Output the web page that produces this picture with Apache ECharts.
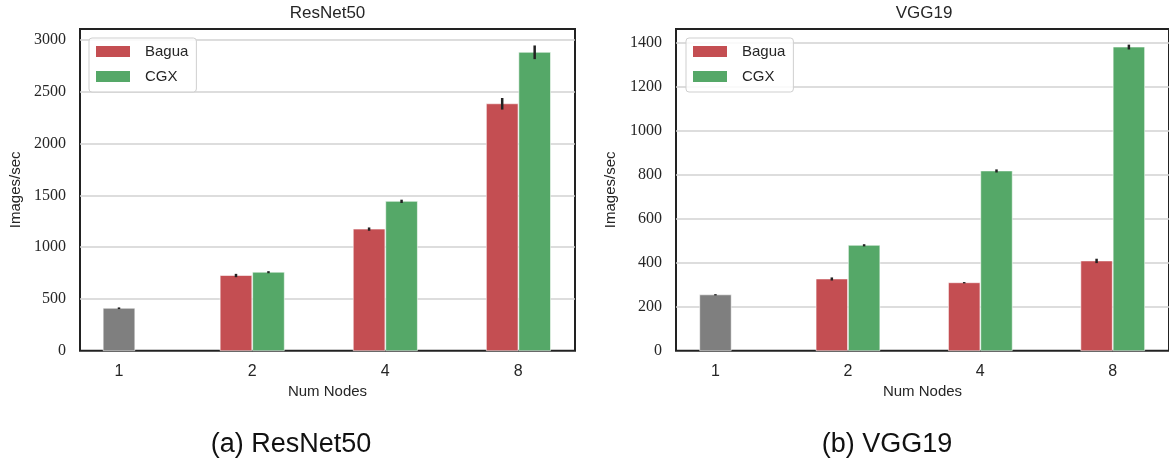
<!DOCTYPE html>
<html><head><meta charset="utf-8">
<script src="https://cdn.jsdelivr.net/npm/echarts@6/dist/echarts.min.js"></script>
<style>html,body{margin:0;padding:0;background:#fff}#c{width:1169px;height:463px}</style>
</head><body><div id="c"></div>
<script>
// ---- data ----
const categories = ['1', '2', '4', '8'];
const seriesNames = ['Bagua', 'CGX'];
// ResNet50 (Images/sec)
const resnetSingle    = [410, null, null, null];
const resnetSingleErr = [8, null, null, null];
const resnetBagua     = [null, 726, 1174, 2384];
const resnetBaguaErr  = [null, 16, 16, 56];
const resnetCGX       = [null, 758, 1442, 2881];
const resnetCGXErr    = [null, 10, 16, 66];
// VGG19 (Images/sec)
const vggSingle    = [254, null, null, null];
const vggSingleErr = [3, null, null, null];
const vggBagua     = [null, 326, 309, 408];
const vggBaguaErr  = [null, 7, 3, 10];
const vggCGX       = [null, 479, 817, 1380];
const vggCGXErr    = [null, 5, 7, 11];
const resnetTicks = [0, 500, 1000, 1500, 2000, 2500, 3000];
const vggTicks = [0, 200, 400, 600, 800, 1000, 1200, 1400];

// ---- style ----
const SANS = 'Liberation Sans';
const SERIF = 'Liberation Serif';
const TXT = '#262626';
const C_SINGLE = '#7f7f7f', C_BAGUA = '#c44e52', C_CGX = '#55a868';
const BW = 0.238;

function toData(vals, errs) {
  const out = [];
  vals.forEach((v, i) => { if (v != null) out.push([i, v, errs[i]]); });
  return out;
}
function barRenderer(start, width) {
  return function (params, api) {
    const x = api.value(0), y = api.value(1), e = api.value(2);
    const p0 = api.coord([x + start, y]);
    const p1 = api.coord([x + start + width, 0]);
    const t = api.coord([x + start + width / 2, y + e]);
    const b = api.coord([x + start + width / 2, y - e]);
    return {
      type: 'group',
      children: [
        { type: 'rect', shape: { x: p0[0], y: p0[1], width: p1[0] - p0[0], height: p1[1] - p0[1] },
          style: { fill: api.visual('color'), stroke: 'rgba(255,255,255,0.55)', lineWidth: 1 } },
        { type: 'line', shape: { x1: t[0], y1: t[1], x2: b[0], y2: b[1] },
          style: { stroke: '#222', lineWidth: 2.5 } }
      ]
    };
  };
}
function mkSeries(name, color, vals, errs, start, idx) {
  return {
    type: 'custom', name: name, xAxisIndex: idx, yAxisIndex: idx,
    itemStyle: { color: color },
    renderItem: barRenderer(start, BW),
    encode: { x: 0, y: 1 },
    data: toData(vals, errs)
  };
}
function xAx(idx, min, max) {
  return {
    type: 'value', gridIndex: idx, min: min, max: max,
    splitLine: { show: false }, axisLine: { show: false }, axisTick: { show: false },
    axisLabel: { customValues: [0, 1, 2, 3], formatter: v => categories[Math.round(v)],
      margin: 13, fontSize: 16, fontFamily: SANS, color: TXT },
    name: 'Num Nodes', nameLocation: 'middle', nameGap: 34,
    nameTextStyle: { fontSize: 15, fontFamily: SANS, color: TXT }
  };
}
function yAx(idx, max, ticks, gap) {
  const step = ticks[1] - ticks[0];
  return {
    type: 'value', gridIndex: idx, min: 0, max: max, interval: step,
    axisLine: { show: false }, axisTick: { show: false },
    splitLine: { showMinLine: false, showMaxLine: false, lineStyle: { color: '#d2d2d2', width: 1.5 } },
    axisLabel: { formatter: v => (ticks.indexOf(v) >= 0 ? String(v) : ''), margin: 14,
      fontSize: 16, fontFamily: SERIF, color: TXT },
    name: 'Images/sec', nameLocation: 'middle', nameGap: gap,
    nameTextStyle: { fontSize: 15, fontFamily: SANS, color: TXT }
  };
}
function legendAt(left) {
  return {
    orient: 'vertical', left: left, top: 38,
    data: seriesNames.map(n => ({ name: n, icon: 'rect' })),
    itemWidth: 34, itemHeight: 11, itemGap: 10,
    padding: [6, 8, 8, 7],
    borderColor: '#cfcfcf', borderWidth: 1, borderRadius: 3,
    backgroundColor: 'rgba(255,255,255,0.85)',
    textStyle: { fontSize: 15, fontFamily: SANS, color: TXT, lineHeight: 15, padding: [0, 0, 0, 10] },
    selectedMode: false
  };
}

const chart = echarts.init(document.getElementById('c'), null, { renderer: 'canvas' });
chart.setOption({
  animation: false,
  backgroundColor: '#fff',
  grid: [
    { left: 80, top: 29, width: 495, height: 321.7, show: true, borderColor: '#222', borderWidth: 2 },
    { left: 676, top: 29, width: 496.5, height: 321.7, show: true, borderColor: '#222', borderWidth: 2 }
  ],
  xAxis: [xAx(0, -0.293, 3.426), xAx(1, -0.298, 3.426)],
  yAxis: [yAx(0, 3106, resnetTicks, 57), yAx(1, 1462, vggTicks, 58)],
  legend: [legendAt(89), legendAt(686)],
  graphic: [
    { type: 'text', x: 327.5, y: 13, style: { text: 'ResNet50', align: 'center', verticalAlign: 'middle', fontSize: 17, fontFamily: SANS, fill: TXT } },
    { type: 'text', x: 924, y: 13, style: { text: 'VGG19', align: 'center', verticalAlign: 'middle', fontSize: 17, fontFamily: SANS, fill: TXT } },
    { type: 'text', x: 291, y: 445, style: { text: '(a) ResNet50', align: 'center', verticalAlign: 'middle', fontSize: 27, fontFamily: SANS, fill: '#111' } },
    { type: 'text', x: 887, y: 445, style: { text: '(b) VGG19', align: 'center', verticalAlign: 'middle', fontSize: 27, fontFamily: SANS, fill: '#111' } }
  ],
  series: [
    mkSeries('Single', C_SINGLE, resnetSingle, resnetSingleErr, -BW / 2, 0),
    mkSeries('Bagua', C_BAGUA, resnetBagua, resnetBaguaErr, -BW - 0.002, 0),
    mkSeries('CGX', C_CGX, resnetCGX, resnetCGXErr, 0.004, 0),
    mkSeries('Single', C_SINGLE, vggSingle, vggSingleErr, -BW / 2, 1),
    mkSeries('Bagua', C_BAGUA, vggBagua, vggBaguaErr, -BW - 0.002, 1),
    mkSeries('CGX', C_CGX, vggCGX, vggCGXErr, 0.004, 1)
  ]
});
</script></body></html>
